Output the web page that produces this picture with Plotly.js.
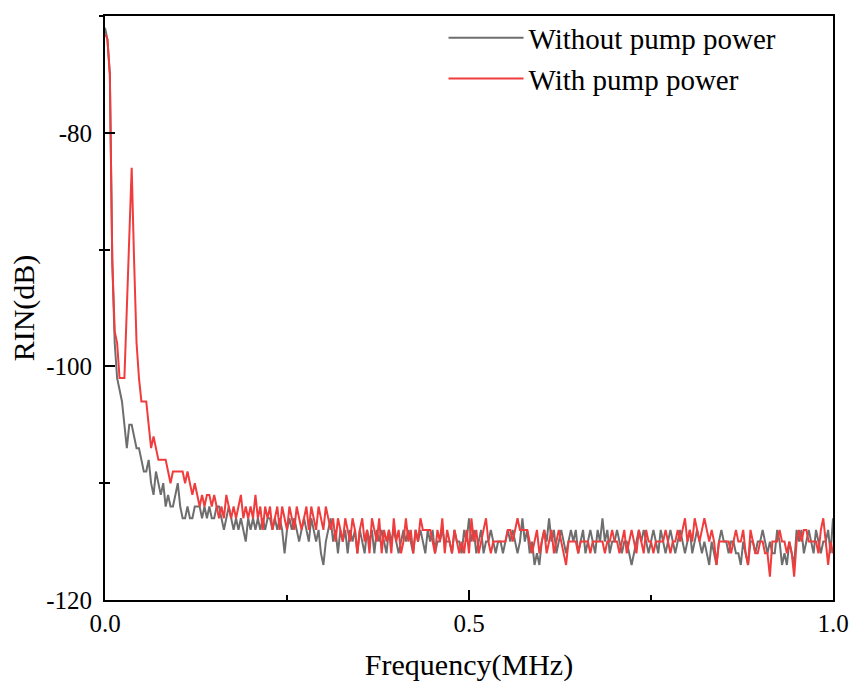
<!DOCTYPE html>
<html>
<head>
<meta charset="utf-8">
<script src="https://cdn.plot.ly/plotly-3.0.1.min.js"></script>
<style>html,body{margin:0;padding:0;background:#fff;}#chart{width:851px;height:686px;}</style>
</head>
<body>
<div id="chart"></div>
<script>
// Frequency axis: first sample and spacing (MHz)
var freqStart = 0;
var freqStep = 1 / 300;

var seriesNames = ['Without pump power', 'With pump power'];

// Tick labels
var xTickVals = [0, 0.5, 1];
var xTickText = ['0.0', '0.5', '1.0'];
var yTickVals = [-120, -100, -80];
var yTickText = ['-120', '-100', '-80'];

// RIN (dB), without pump power
var rinWithout = [
  -71,-72,-75,-91,-98,-101,-102,-103,-105,-107,
  -105,-105,-106,-107,-107,-108,-109,-109,-108,-110,
  -111,-109,-110,-111,-110,-112,-111,-112,-112,-111,
  -110,-112,-113,-113,-112,-113,-113,-112,-112,-112,
  -113,-112,-113,-112,-113,-113,-112,-112,-113,-114,
  -113,-112,-113,-114,-113,-114,-113,-114,-115,-113,
  -114,
  -113,-114,-113,-114,-113,-114,-113,-113,-114,-113,
  -114,-113,-114,-116,-114,-113,-114,-113,-114,-115,
  -114,-113,-114,-115,-113,-114,-115,-114,-116,-117,
  -115,-114,-113,-115,-114,-116,-114,-115,-114,-116,
  -114,-115,-114,-116,-114,-115,-116,-114,-115,-114,
  -116,-114,-115,-114,-115,-116,-114,-115,-114,-115,
  -116,-115,-114,-115,-114,-115,-116,-114,-115,-114,
  -115,-116,-114,-115,-114,-116,-115,-115,-114,-115,
  -115,-115,-116,-114,-115,-115,-116,-114,-115,-113,
  -115,-114,-116,-115,-114,-116,-115,-115,-114,-115,
  -116,-115,-115,-116,-115,-114,-115,-114,-115,-116,
  -115,-113,-115,-114,-116,-115,-117,-116,-117,-115,
  -114,-115,-113,-115,-114,-116,-115,-114,-115,-116,
  -115,-114,-115,-114,-116,-115,-114,-116,-115,-114,
  -115,-116,-114,-115,-113,-115,-114,-116,-115,-115,
  -114,-115,-116,-115,-115,-116,-117,-116,-115,-114,
  -115,-114,-115,-116,-115,-114,-115,-116,-114,-115,
  -116,-115,-114,-115,-116,-115,-114,-115,-116,-115,
  -114,-116,-115,-114,-115,-116,-115,-116,-117,-115,
  -116,-117,-115,-114,-115,-115,-116,-115,-115,-116,
  -116,-117,-115,-116,-117,-115,-115,-116,-115,-115,
  -114,-115,-116,-115,-116,-116,-114,-115,-117,-116,
  -117,-115,-116,-117,-114,-115,-114,-116,-115,-114,
  -115,-116,-114,-115,-116,-115,-115,-114,-116,-113
];

// RIN (dB), with pump power
var rinWith = [
  -71.5,-72,-75,-91,-97,-98,-101,-101,-101,-95,
  -88,-83,-91,-98,-101,-103,-103,-103,-105,-107,
  -106,-107,-108,-108,-108,-108,-109,-110,-109,-109,
  -109,-109,-109,-110,-109,-110,-111,-110,-111,-112,
  -111,-112,-111,-111,-112,-111,-112,-113,-112,-113,
  -111,-112,-113,-112,-113,-112,-111,-113,-112,-113,
  -112,
  -113,-111,-113,-112,-114,-112,-113,-112,-114,-113,
  -112,-114,-112,-113,-114,-112,-113,-114,-112,-113,
  -114,-113,-112,-114,-112,-113,-114,-112,-113,-114,
  -112,-113,-114,-113,-115,-113,-114,-115,-113,-114,
  -115,-113,-114,-116,-114,-113,-115,-114,-116,-113,
  -114,-115,-113,-116,-114,-115,-114,-116,-113,-115,
  -114,-116,-115,-113,-115,-114,-116,-114,-115,-113,
  -114,-114,-114,-114,-115,-116,-114,-115,-113,-116,
  -114,-115,-116,-114,-115,-116,-115,-116,-114,-116,
  -113,-115,-114,-116,-115,-114,-113,-115,-116,-115,
  -115,-115,-115,-115,-115,-114,-114,-115,-114,-113,
  -114,-114,-114,-114,-115,-116,-115,-114,-116,-115,
  -114,-116,-115,-114,-116,-115,-114,-115,-116,-117,
  -115,-115,-115,-115,-116,-115,-115,-115,-115,-116,
  -115,-115,-115,-115,-115,-116,-115,-115,-114,-115,
  -115,-116,-115,-114,-116,-115,-114,-115,-116,-114,
  -115,-116,-114,-115,-115,-116,-115,-115,-115,-115,
  -114,-115,-116,-115,-115,-114,-115,-114,-113,-115,
  -114,-115,-113,-114,-115,-114,-113,-114,-115,-114,
  -115,-117,-115,-115,-115,-115,-115,-116,-115,-114,
  -115,-115,-114,-116,-117,-114,-115,-116,-116,-115,
  -115,-116,-116,-118,-115,-115,-115,-114,-115,-115,
  -116,-115,-116,-118,-115,-114,-115,-114,-114,-115,
  -115,-115,-115,-116,-114,-113,-115,-117,-115,-116
];

var seriesColors = ['#6e6e6e', '#f03c3c'];

var FONT = 'Liberation Serif';

var traces = [
  {type: 'scatter', mode: 'lines', name: seriesNames[0], x0: freqStart, dx: freqStep, y: rinWithout,
   line: {color: seriesColors[0], width: 2}},
  {type: 'scatter', mode: 'lines', name: seriesNames[1], x0: freqStart, dx: freqStep, y: rinWith,
   line: {color: seriesColors[1], width: 2}},
  // invisible helper on overlay axis for outside minor ticks
  {type: 'scatter', mode: 'lines', x: [0], y: [-120], yaxis: 'y2', showlegend: false, hoverinfo: 'skip',
   line: {color: 'rgba(0,0,0,0)'}}
];

var layout = {
  width: 851, height: 686,
  margin: {l: 105, r: 18, t: 12, b: 86},
  paper_bgcolor: '#ffffff', plot_bgcolor: '#ffffff',
  font: {family: FONT, color: '#000', size: 25},
  showlegend: true,
  legend: {x: 0.465, y: 1.006, xanchor: 'left', yanchor: 'top', bgcolor: 'rgba(0,0,0,0)',
           font: {family: FONT, size: 29, color: '#000'}, itemwidth: 75, tracegroupgap: 0},
  xaxis: {
    range: [0, 1], tickmode: 'array', tickvals: xTickVals, ticktext: xTickText,
    showline: true, linecolor: '#000', linewidth: 2, mirror: true,
    showgrid: false, zeroline: false,
    ticks: 'inside', ticklen: 10, tickwidth: 2, tickcolor: '#000',
    ticklabelstandoff: 0,
    minor: {tickmode: 'linear', tick0: 0, dtick: 0.25, ticks: 'inside', ticklen: 5, tickwidth: 2, tickcolor: '#000', showgrid: false},
    tickfont: {family: FONT, size: 25, color: '#000'},
    title: {text: 'Frequency(MHz)', font: {family: FONT, size: 30, color: '#000'}, standoff: 18}
  },
  yaxis: {
    range: [-120, -70], tickmode: 'array', tickvals: yTickVals, ticktext: yTickText,
    showline: true, linecolor: '#000', linewidth: 2, mirror: true,
    showgrid: false, zeroline: false,
    ticks: 'inside', ticklen: 10, tickwidth: 2, tickcolor: '#000',
    ticklabelstandoff: 6,
    minor: {tickmode: 'linear', tick0: -120, dtick: 10, ticks: 'inside', ticklen: 5, tickwidth: 2, tickcolor: '#000', showgrid: false},
    tickfont: {family: FONT, size: 25, color: '#000'},
    title: {text: 'RIN(dB)', font: {family: FONT, size: 30, color: '#000'}, standoff: 3}
  },
  yaxis2: {
    overlaying: 'y', matches: 'y', side: 'left', range: [-120, -70],
    showticklabels: false, showline: false, showgrid: false, zeroline: false,
    ticks: '', dtick: 20,
    minor: {tick0: -120, dtick: 10, ticks: 'outside', ticklen: 5, tickwidth: 2, tickcolor: '#000', showgrid: false}
  }
};

Plotly.newPlot('chart', traces, layout, {displayModeBar: false, staticPlot: true});
</script>
</body>
</html>
